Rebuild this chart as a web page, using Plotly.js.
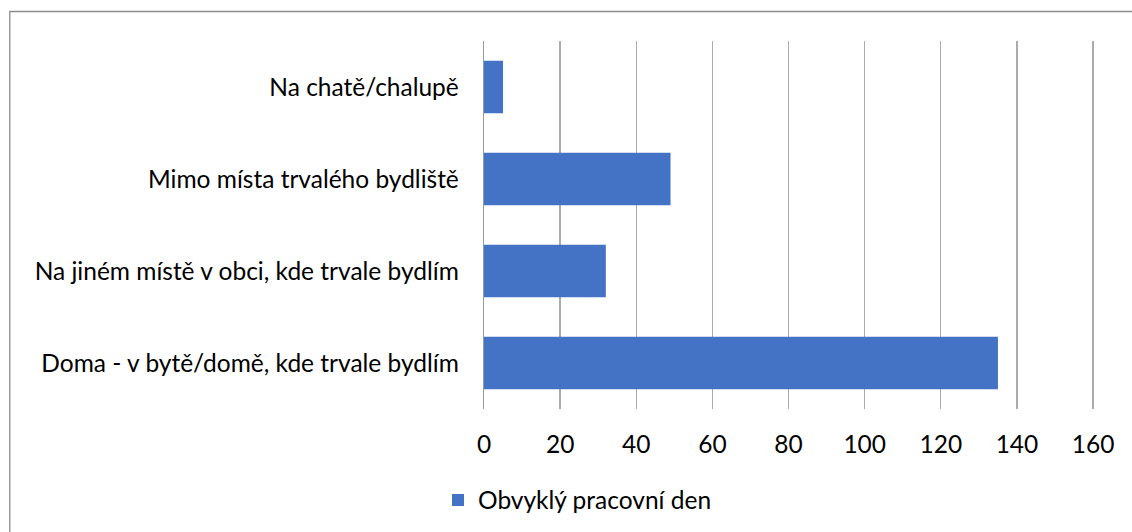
<!DOCTYPE html>
<html><head><meta charset="utf-8">
<script src="https://cdn.plot.ly/plotly-3.0.1.min.js"></script>
<style>html,body{margin:0;padding:0;background:#fff;}#chart{width:1132px;height:532px;}</style>
</head><body><div id="chart"></div>
<script>
const categories = [
  "Doma - v bytě/domě, kde trvale bydlím",
  "Na jiném místě v obci, kde trvale bydlím",
  "Mimo místa trvalého bydliště",
  "Na chatě/chalupě"
];
const values = [135, 32, 49, 5];
const seriesName = "Obvyklý pracovní den";
const xTicks = [0, 20, 40, 60, 80, 100, 120, 140, 160];

const L = 484, R = 36.6, T = 41, B = 123;
const W = 1132 - L - R, H = 532 - T - B;
const px2x = p => (p - L) / W;
const py2y = p => (532 - B - p) / H;

const font = {family: "Lato, 'Noto Sans', sans-serif", size: 24.5, color: "#000"};

Plotly.newPlot("chart", [{
  type: "bar", orientation: "h",
  y: categories, x: values, name: seriesName,
  marker: {color: "#4472C4", line: {width: 0}},
  hoverinfo: "none"
}], {
  width: 1132, height: 532,
  margin: {l: L, r: R, t: T, b: B, pad: 0},
  paper_bgcolor: "#fff", plot_bgcolor: "#fff",
  font: font,
  bargap: 0.427,
  showlegend: true,
  legend: {
    orientation: "h", xref: "container", yref: "container",
    x: 438/1132, xanchor: "left", y: 1 - 500/532, yanchor: "middle",
    font: font, bgcolor: "rgba(0,0,0,0)"
  },
  xaxis: {
    range: [0, 160.5], tickvals: xTicks, ticktext: xTicks.map(String),
    showgrid: true, gridcolor: "#ababab", gridwidth: 1.3,
    zeroline: false, showline: false, ticks: "",
    ticklabelstandoff: 18, fixedrange: true
  },
  yaxis: {
    type: "category", showgrid: false, zeroline: false,
    showline: true, linecolor: "#9a9a9a", linewidth: 1.3,
    ticks: "", ticklabelstandoff: 19, automargin: false, fixedrange: true
  },
  shapes: [{
    type: "rect", xref: "paper", yref: "paper",
    x0: px2x(9.5), x1: px2x(1200), y0: py2y(700), y1: py2y(11.5),
    line: {color: "#8c8c8c", width: 1.3}, fillcolor: "rgba(0,0,0,0)", layer: "below"
  }]
}, {staticPlot: true, displayModeBar: false});
</script></body></html>
